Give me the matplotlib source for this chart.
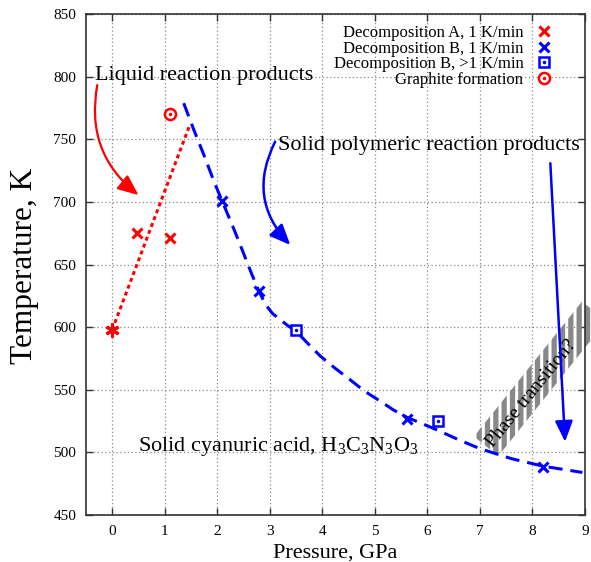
import matplotlib
matplotlib.use('Agg')
import matplotlib.pyplot as plt
from matplotlib.patches import Polygon
from matplotlib.legend_handler import HandlerTuple

plt.rcParams['font.family'] = ['Liberation Serif', 'DejaVu Serif']
plt.rcParams['mathtext.fontset'] = 'custom'
plt.rcParams['mathtext.rm'] = 'Liberation Serif'
plt.rcParams['mathtext.it'] = 'Liberation Serif:italic'
plt.rcParams['hatch.linewidth'] = 3.8

# ---------------- data ----------------
decompA_P = [0.47, 1.09]
decompA_T = [675, 671]
ambient_P = [0.0]
ambient_T = [598]
decompB_P = [2.09, 2.79, 5.61, 8.20]
decompB_T = [701, 629, 527, 488]
decompBfast_P = [3.50, 6.21]
decompBfast_T = [598, 525]
graphite_P = [1.09]
graphite_T = [770]
liquid_line_P = [0.0, 1.48]
liquid_line_T = [598, 762]
solid_line_P = [1.36, 1.55, 1.75, 1.95, 2.09, 2.30, 2.50, 2.65, 2.79, 2.92,
                3.05, 3.20, 3.35, 3.50, 3.70, 3.96, 4.25, 4.53, 4.80, 5.10,
                5.35, 5.61, 5.90, 6.18, 6.60, 7.00, 7.60, 8.20, 8.95]
solid_line_T = [779, 758, 737, 715, 701, 680, 659, 643, 629, 618,
                611, 606, 601, 597, 588, 577, 567, 558, 549, 541,
                534, 528, 523, 518, 510, 503, 495, 489, 484]
x_ticks = [0, 1, 2, 3, 4, 5, 6, 7, 8, 9]
y_ticks = [450, 500, 550, 600, 650, 700, 750, 800, 850]
legend_labels = ['Decomposition A, 1 K/min', 'Decomposition B, 1 K/min',
                 'Decomposition B, >1 K/min', 'Graphite formation']

RED = '#ff0000'
BLUE = '#0000ff'

fig = plt.figure(figsize=(5.91, 5.62), dpi=100)
ax = fig.add_axes([86 / 591, 47 / 562, 499 / 591, 500.7 / 562])
ax.set_xlim(-0.5, 9)
ax.set_ylim(450, 850)
ax.set_xticks(x_ticks)
ax.set_yticks(y_ticks)
ax.grid(True, color='#8a8a8a', linestyle=(0, (1, 2)), linewidth=0.9)
ax.set_axisbelow(True)
ax.tick_params(direction='in', top=True, right=True, length=5, width=1,
               labelsize=11, pad=7, color='#333333')
for s in ax.spines.values():
    s.set_color('#333333')
    s.set_linewidth(1.2)

ax.set_xlabel('Pressure, GPa', fontsize=16, labelpad=4)
ax.set_ylabel('Temperature, K', fontsize=22.5)
ax.yaxis.set_label_coords(-0.095, 0.497)

# phase-transition band
band = Polygon([(7.351, 497.1), (6.886, 512.7), (8.942, 620.5), (9.406, 605.0)],
               closed=True, facecolor='none', edgecolor='#888888',
               linewidth=0, hatch='||', clip_on=False, zorder=1.5)
ax.add_patch(band)
ax.text(7.97, 547, 'Phase transition?', rotation=51, fontsize=14,
        ha='center', va='center', rotation_mode='anchor', zorder=3)

# lines
ax.plot(liquid_line_P, liquid_line_T, color=RED, lw=2.2,
        linestyle=(0, (1.3, 1.1)), zorder=2)
ax.plot(solid_line_P, solid_line_T, color=BLUE, lw=2.2,
        linestyle=(0, (4.6, 2.6)), zorder=2)

# markers
hA, = ax.plot(decompA_P, decompA_T, 'x', color=RED, ms=7, mew=2.2, zorder=4)
ax.plot(ambient_P, ambient_T, marker=(6, 2, 0), ls='none', color=RED, ms=10, mew=2.2, zorder=4)
hB, = ax.plot(decompB_P, decompB_T, 'x', color=BLUE, ms=7, mew=2.2, zorder=4)
hC1, = ax.plot(decompBfast_P, decompBfast_T, 's', mfc='white', mec=BLUE, ms=7.5, mew=1.8, zorder=4)
hC2, = ax.plot(decompBfast_P, decompBfast_T, '.', color=BLUE, ms=3, zorder=5)
hD1, = ax.plot(graphite_P, graphite_T, 'o', mfc='white', mec=RED, ms=8, mew=1.8, zorder=4)
hD2, = ax.plot(graphite_P, graphite_T, '.', color=RED, ms=3, zorder=5)

leg = ax.legend([hA, hB, (hC1, hC2), (hD1, hD2)], legend_labels,
                handler_map={tuple: HandlerTuple(ndivide=1, pad=0)},
                loc='upper right', bbox_to_anchor=(0.935, 0.978),
                frameon=False, markerfirst=False, fontsize=12,
                handlelength=1.0, handletextpad=0.75, labelspacing=-0.03,
                borderpad=0, borderaxespad=0)

# annotations
ax.text(-0.32, 801, 'Liquid reaction products', fontsize=16, ha='left', va='center')
ax.text(3.16, 745.5, 'Solid polymeric reaction products', fontsize=16, ha='left', va='center')
ax.text(0.49, 505, r'Solid cyanuric acid, H$_3$C$_3$N$_3$O$_3$', fontsize=16,
        ha='left', va='center')

ax.annotate('', xy=(0.50, 705.6), xytext=(-0.285, 793.5),
            arrowprops=dict(arrowstyle='-|>,head_length=0.7,head_width=0.3',
                            connectionstyle='arc3,rad=0.3', color=RED, lw=1.6,
                            shrinkA=0, shrinkB=0, mutation_scale=18))
ax.annotate('', xy=(3.39, 665.7), xytext=(3.10, 748.2),
            arrowprops=dict(arrowstyle='-|>,head_length=0.7,head_width=0.3',
                            connectionstyle='arc3,rad=0.35', color=BLUE, lw=1.8,
                            shrinkA=0, shrinkB=0, mutation_scale=18))
ax.annotate('', xy=(8.62, 508.5), xytext=(8.34, 731),
            arrowprops=dict(arrowstyle='-|>,head_length=0.7,head_width=0.3',
                            color=BLUE, lw=1.8,
                            shrinkA=0, shrinkB=0, mutation_scale=18), zorder=4)

fig.savefig('out.png', dpi=100)
